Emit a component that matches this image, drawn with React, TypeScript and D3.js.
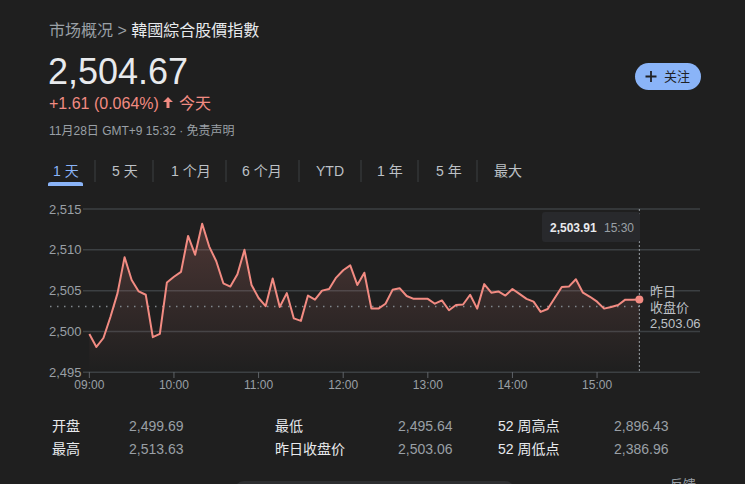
import React, { useEffect, useRef } from "react";
import * as d3 from "d3";

const title = "韓國綜合股價指數";
const breadcrumb = "市场概况";
const price = "2,504.67";
const change = "+1.61 (0.064%)";
const dateLine = "11月28日 GMT+9 15:32 · 免责声明";
const tabs = ["1 天", "5 天", "1 个月", "6 个月", "YTD", "1 年", "5 年", "最大"];
const yTicks = [2495, 2500, 2505, 2510, 2515];
const xTickLabels = ["09:00", "10:00", "11:00", "12:00", "13:00", "14:00", "15:00"];
const prevClose = 2503.06;
const startTime = "09:00";
const stepMinutes = 5;
const values = [
  2499.69, 2498.1, 2499.2, 2501.8, 2504.7, 2509.1, 2506.3, 2504.9, 2504.5, 2499.3, 2499.7, 2506.0,
  2506.7, 2507.3, 2511.7, 2509.4, 2513.2, 2510.4, 2508.6, 2505.9, 2505.5, 2507.0, 2510.0, 2505.7,
  2504.1, 2503.1, 2506.5, 2503.0, 2504.7, 2501.6, 2501.3, 2504.4, 2503.9, 2505.0, 2505.2, 2506.6,
  2507.5, 2508.1, 2505.7, 2507.2, 2502.8, 2502.8, 2503.4, 2505.1, 2505.3, 2504.35, 2504.0, 2504.0,
  2504.0, 2503.4, 2503.8, 2502.6, 2503.25, 2503.3, 2504.5, 2502.8, 2505.8, 2504.75, 2504.9, 2504.4,
  2505.2, 2504.6, 2504.0, 2503.65, 2502.4, 2502.75, 2504.1, 2505.45, 2505.5, 2506.4, 2504.75, 2504.25,
  2503.65, 2502.8, 2503.0, 2503.25, 2503.9, 2503.9, 2503.91,
];
const statLabels1 = ["开盘", "最高"];
const statValues1 = ["2,499.69", "2,513.63"];
const statLabels2 = ["最低", "昨日收盘价"];
const statValues2 = ["2,495.64", "2,503.06"];
const statLabels3 = ["52 周高点", "52 周低点"];
const statValues3 = ["2,896.43", "2,386.96"];

const FONT = "'Liberation Sans', Arial, 'Noto Sans CJK SC', sans-serif";
const BG = "#1f1f1f";
const RED = "#f28b82";

const toMin = (s: string) => {
  const [h, m] = s.split(":").map(Number);
  return h * 60 + m;
};
const fmtTime = (m: number) =>
  `${String(Math.floor(m / 60)).padStart(2, "0")}:${String(m % 60).padStart(2, "0")}`;

export default function App() {
  const ref = useRef<SVGSVGElement>(null);

  useEffect(() => {
    const svg = d3.select(ref.current);
    svg.selectAll("*").remove();

    const t0 = toMin(startTime);
    const data = values.map((v, i) => ({ t: t0 + i * stepMinutes, v }));

    const x = d3.scaleLinear().domain([535.5, 973]).range([83, 700]);
    const y = d3.scaleLinear().domain([2495, 2515]).range([372.3, 209]);

    svg.append("rect").attr("width", 745).attr("height", 484).attr("fill", BG);

    // header
    const hdr = svg.append("text").attr("x", 49).attr("y", 36).attr("font-family", FONT).attr("font-size", 16);
    hdr.append("tspan").attr("fill", "#9aa0a6").text(breadcrumb + " > ");
    hdr.append("tspan").attr("fill", "#e8eaed").text(title);

    svg.append("text").attr("x", 48).attr("y", 84).attr("font-family", FONT).attr("font-size", 36)
      .attr("fill", "#e8eaed").text(price);

    svg.append("text").attr("x", 49).attr("y", 109).attr("font-family", FONT).attr("font-size", 16)
      .attr("fill", RED).text(change);
    const ax = 168;
    svg.append("path")
      .attr("d", `M${ax},${97} L${ax + 5},${102} L${ax + 1.5},${102} L${ax + 1.5},${108} L${ax - 1.5},${108} L${ax - 1.5},${102} L${ax - 5},${102} Z`)
      .attr("fill", RED);
    svg.append("text").attr("x", 179).attr("y", 109).attr("font-family", FONT).attr("font-size", 16)
      .attr("fill", RED).text("今天");

    svg.append("text").attr("x", 49).attr("y", 135).attr("font-family", FONT).attr("font-size", 12)
      .attr("fill", "#9aa0a6").text(dateLine);

    // follow button
    svg.append("rect").attr("x", 635).attr("y", 63).attr("width", 66).attr("height", 27).attr("rx", 13.5)
      .attr("fill", "#8ab4f8");
    svg.append("path").attr("d", "M651,71 V82 M645.5,76.5 H656.5").attr("stroke", "#202124").attr("stroke-width", 1.8);
    svg.append("text").attr("x", 664).attr("y", 81).attr("font-family", FONT).attr("font-size", 13)
      .attr("fill", "#202124").text("关注");

    // tabs
    const tabX = [53, 112, 171, 242, 316, 377, 436, 494];
    const sepX = [95, 153, 226, 299, 361, 418, 477];
    tabs.forEach((t, i) => {
      svg.append("text").attr("x", tabX[i]).attr("y", 176).attr("font-family", FONT).attr("font-size", 14)
        .attr("fill", i === 0 ? "#8ab4f8" : "#bdc1c6").text(t);
    });
    sepX.forEach((sx) => {
      svg.append("line").attr("x1", sx).attr("x2", sx).attr("y1", 160).attr("y2", 182)
        .attr("stroke", "#3c4043").attr("stroke-width", 1);
    });
    svg.append("path").attr("d", "M48,186 V184 Q48,182 51,182 H80 Q83,182 83,184 V186 Z").attr("fill", "#8ab4f8");

    // grid
    yTicks.forEach((tv) => {
      svg.append("line").attr("x1", 83).attr("x2", 700).attr("y1", y(tv)).attr("y2", y(tv))
        .attr("stroke", "#3c4043").attr("stroke-width", 1.5);
      svg.append("text").attr("x", 49).attr("y", y(tv)).attr("dy", "0.35em").attr("font-family", FONT)
        .attr("font-size", 13).attr("fill", "#9aa0a6").text(d3.format(",")(tv));
    });
    xTickLabels.forEach((lab) => {
      const xm = x(toMin(lab));
      svg.append("line").attr("x1", xm).attr("x2", xm).attr("y1", 372).attr("y2", 378)
        .attr("stroke", "#5f6368").attr("stroke-width", 1);
      svg.append("text").attr("x", xm).attr("y", 389).attr("text-anchor", "middle").attr("font-family", FONT)
        .attr("font-size", 12).attr("fill", "#9aa0a6").text(lab);
    });

    // gradient
    const defs = svg.append("defs");
    const g = defs.append("linearGradient").attr("id", "fillg").attr("gradientUnits", "userSpaceOnUse")
      .attr("x1", 0).attr("x2", 0).attr("y1", 220).attr("y2", 372);
    g.append("stop").attr("offset", 0).attr("stop-color", RED).attr("stop-opacity", 0.22);
    g.append("stop").attr("offset", 1).attr("stop-color", RED).attr("stop-opacity", 0.0);

    const area = d3.area<{ t: number; v: number }>().x((d) => x(d.t)).y0(372).y1((d) => y(d.v));
    svg.append("path").datum(data).attr("d", area).attr("fill", "url(#fillg)");

    const last = data[data.length - 1];
    svg.append("line").attr("x1", 50).attr("x2", x(last.t)).attr("y1", y(prevClose)).attr("y2", y(prevClose))
      .attr("stroke", "#80868b").attr("stroke-width", 1.5).attr("stroke-dasharray", "1.5,5.5");

    const line = d3.line<{ t: number; v: number }>().x((d) => x(d.t)).y((d) => y(d.v));
    svg.append("path").datum(data).attr("d", line).attr("fill", "none").attr("stroke", RED)
      .attr("stroke-width", 2).attr("stroke-linejoin", "round");

    // hover line
    svg.append("line").attr("x1", x(last.t)).attr("x2", x(last.t)).attr("y1", 209).attr("y2", 372)
      .attr("stroke", "#9aa0a6").attr("stroke-width", 1).attr("stroke-dasharray", "2,2");
    svg.append("circle").attr("cx", x(last.t)).attr("cy", y(last.v)).attr("r", 4).attr("fill", RED);

    // tooltip
    svg.append("rect").attr("x", 542).attr("y", 212).attr("width", 98).attr("height", 30).attr("rx", 3)
      .attr("fill", "#28292c");
    svg.append("text").attr("x", 550).attr("y", 232).attr("font-family", FONT).attr("font-size", 12)
      .attr("font-weight", "bold").attr("fill", "#e8eaed").text(d3.format(",.2f")(last.v));
    svg.append("text").attr("x", 604).attr("y", 232).attr("font-family", FONT).attr("font-size", 12)
      .attr("fill", "#9aa0a6").text(fmtTime(last.t));

    // prev close label
    ["昨日", "收盘价", d3.format(",.2f")(prevClose)].forEach((s, i) => {
      svg.append("text").attr("x", 650).attr("y", 296 + i * 16).attr("font-family", FONT).attr("font-size", 13)
        .attr("fill", "#bdc1c6").text(s);
    });

    // stats
    const cols = [
      { lx: 52, vx: 129, labels: statLabels1, vals: statValues1 },
      { lx: 275, vx: 398, labels: statLabels2, vals: statValues2 },
      { lx: 498, vx: 614, labels: statLabels3, vals: statValues3 },
    ];
    cols.forEach((c) => {
      c.labels.forEach((l, i) => {
        svg.append("text").attr("x", c.lx).attr("y", 431 + i * 23).attr("font-family", FONT).attr("font-size", 14)
          .attr("fill", "#e8eaed").text(l);
        svg.append("text").attr("x", c.vx).attr("y", 431 + i * 23).attr("font-family", FONT).attr("font-size", 14)
          .attr("fill", "#9aa0a6").text(c.vals[i]);
      });
    });

    // bottom partial elements (cut off at the page edge, as in the reference)
    svg.append("rect").attr("x", 234).attr("y", 481).attr("width", 281).attr("height", 20).attr("rx", 10)
      .attr("fill", "#2d2e30");
    svg.append("text").attr("x", 670).attr("y", 489).attr("font-family", FONT).attr("font-size", 13)
      .attr("fill", "#9aa0a6").text("反馈");
  }, []);

  return (
    <div style={{ position: "absolute", left: 0, top: 0 }}>
      <svg ref={ref} width={745} height={484} style={{ display: "block" }} />
    </div>
  );
}
